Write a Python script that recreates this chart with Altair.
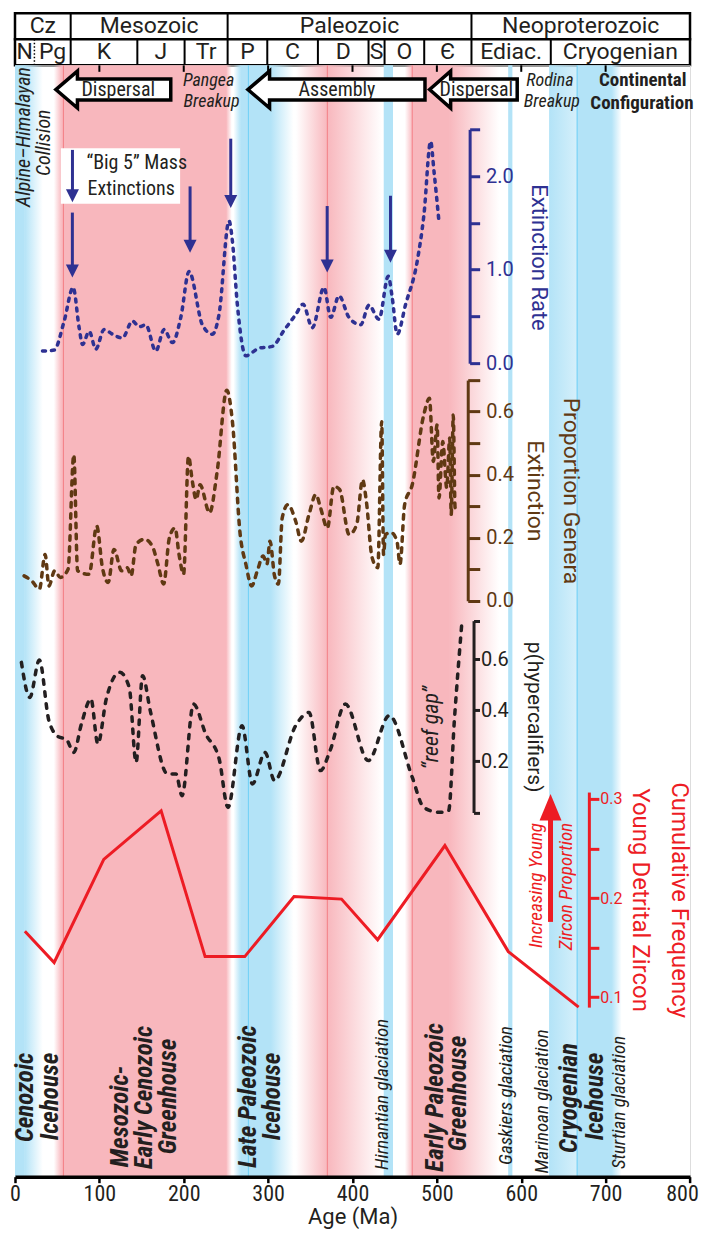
import altair as alt
import pandas as pd

# ---------------- series values: (age in Ma, value) ----------------
ext_rate = [
    (32.6, 0.13), (46.4, 0.14), (58.3, 0.45), (68.9, 0.81), (76.0, 0.38), (80.0, 0.20),
    (87.9, 0.34), (95.8, 0.15), (105.6, 0.36), (115.5, 0.31), (127.3, 0.27), (139.2, 0.45),
    (147.1, 0.39), (155.0, 0.41), (166.9, 0.13), (176.7, 0.36), (186.6, 0.22), (196.5, 0.49),
    (206.3, 0.98), (222.1, 0.41), (233.9, 0.31), (241.8, 0.52), (253.7, 1.52), (257.6, 1.31),
    (263.5, 0.63), (273.5, 0.08), (289.2, 0.16), (305.0, 0.18), (318.8, 0.35), (332.7, 0.52),
    (341.4, 0.63), (352.4, 0.38), (366.2, 0.81), (374.2, 0.49), (384.0, 0.72), (395.8, 0.49),
    (409.7, 0.41), (419.5, 0.62), (431.4, 0.47), (442.4, 0.93), (447.1, 0.70), (453.0, 0.31),
    (463.0, 0.63), (476.7, 1.09), (484.7, 1.59), (492.6, 2.37), (496.6, 2.05), (502.4, 1.52),
]

genera_ext = [
    (10.8, 0.079), (19.8, 0.063), (28.9, 0.037), (35.7, 0.147), (40.2, 0.047), (47.0, 0.095),
    (53.8, 0.074), (62.9, 0.100), (69.7, 0.463), (74.2, 0.095), (87.8, 0.084), (96.9, 0.237),
    (103.6, 0.105), (110.5, 0.058), (117.3, 0.163), (126.4, 0.095), (133.1, 0.105), (137.6, 0.079),
    (143.5, 0.179), (153.5, 0.195), (162.6, 0.174), (169.4, 0.116), (176.2, 0.053), (183.0, 0.200),
    (189.7, 0.231), (194.4, 0.147), (199.8, 0.084), (205.6, 0.458), (210.2, 0.379), (214.7, 0.321),
    (219.3, 0.368), (230.6, 0.279), (239.6, 0.410), (251.0, 0.668), (257.7, 0.568), (266.9, 0.210),
    (273.6, 0.116), (280.5, 0.047), (287.2, 0.095), (294.1, 0.142), (298.6, 0.116), (302.2, 0.189),
    (307.6, 0.079), (312.2, 0.053), (316.7, 0.263), (323.5, 0.305), (332.6, 0.253), (339.4, 0.189),
    (348.5, 0.274), (356.6, 0.337), (362.1, 0.295), (370.2, 0.231), (377.9, 0.363), (384.7, 0.353),
    (396.0, 0.210), (405.0, 0.242), (411.9, 0.384), (416.4, 0.316), (423.2, 0.137), (430.0, 0.105),
    (434.6, 0.568), (436.8, 0.147), (439.1, 0.210), (445.9, 0.216), (452.7, 0.189), (456.3, 0.116),
    (461.8, 0.305), (470.8, 0.368), (484.4, 0.589), (491.2, 0.642), (495.8, 0.442), (500.3, 0.558),
    (502.5, 0.326), (507.0, 0.505), (511.7, 0.358), (515.2, 0.516), (517.0, 0.274), (519.4, 0.589),
    (521.6, 0.295), (525.2, 0.305),
]

hypercalc = [
    (7.6, 0.587), (17.5, 0.450), (28.9, 0.596), (40.2, 0.359), (51.5, 0.296), (60.6, 0.287),
    (69.7, 0.235), (78.7, 0.346), (90.0, 0.444), (98.2, 0.268), (108.2, 0.444), (124.1, 0.548),
    (135.4, 0.489), (143.5, 0.196), (151.2, 0.535), (160.3, 0.398), (180.7, 0.151), (190.7, 0.151),
    (198.0, 0.066), (211.5, 0.424), (226.1, 0.307), (242.0, 0.209), (252.4, 0.020), (269.1, 0.339),
    (281.4, 0.112), (296.3, 0.235), (307.6, 0.125), (332.6, 0.339), (348.5, 0.391), (362.1, 0.164),
    (373.4, 0.242), (391.5, 0.424), (418.7, 0.203), (443.6, 0.379), (470.8, 0.138), (484.4, 0.020),
    (502.5, 0.001), (513.9, 0.007), (520.7, 0.359), (529.8, 0.750),
]

zircon = [
    (11.7, 0.1665), (46.4, 0.135), (105.2, 0.239), (173.2, 0.288), (225.3, 0.141), (272.3, 0.141),
    (330.7, 0.2015), (387.0, 0.199), (429.8, 0.158), (509.5, 0.253), (584.7, 0.146), (668.0, 0.090),
]

# "Big 5" mass extinction arrows: age, arrow top, arrow tip (extinction-rate units)
big5_age = [68.0, 207.5, 255.7, 370.0, 445.0]
big5_from = [1.61, 1.89, 2.40, 1.68, 1.79]
big5_to = [0.915, 1.18, 1.66, 0.97, 1.075]
legend_arrow = [(68.1, 2.28, 1.72)]
zircon_arrow = [(634.7, 0.176, 0.305)]   # age, shaft bottom, tip (zircon units)

# ---------------- timescale ----------------
era_names = ["Cz", "Mesozoic", "Paleozoic", "Neoproterozoic"]
era_start = [0, 66, 252, 541]
era_end = [66, 252, 541, 800]
period_names = ["N", "Pg", "K", "J", "Tr", "P", "C", "D", "S", "O", "Є", "Ediac.", "Cryogenian"]
period_start = [0, 23, 66, 145, 201, 252, 299, 359, 419, 438, 485, 541, 635]
period_end = [23, 66, 145, 201, 252, 299, 359, 419, 438, 485, 541, 635, 800]
dotted_boundaries = [23]
header_ticks = [100, 200, 300, 400, 500, 600, 700]
age_ticks = [0, 100, 200, 300, 400, 500, 600, 700, 800]

# climate bands: (start Ma, end Ma, hue, shading)
climate_bands = [
    (0, 11.5, "blue", "solid"), (11, 33, "blue", "out"),
    (46, 55.5, "pink", "in"), (55, 250.5, "pink", "solid"), (250, 257, "pink", "out"),
    (259, 267.5, "blue", "in"), (267, 303.5, "blue", "solid"), (303, 330, "blue", "out"),
    (333, 370.5, "pink", "in"), (370, 435, "pink", "out"),
    (437, 448, "blue", "solid"),
    (462, 471.5, "pink", "in"), (471, 515.5, "pink", "solid"), (515, 574, "pink", "out"),
    (584.5, 589.5, "blue", "solid"),
    (633, 666.5, "blue", "half"), (666, 707.5, "blue", "solid"), (707, 719, "blue", "out"),
]
red_lines = [57.4, 370.2, 470.8]
cyan_lines = [276.6, 666.2]

# tectonic arrows (Ma): tip, neck, tail
plate_labels = ["Dispersal", "Assembly", "Dispersal"]
plate_label_age = [122.4, 381.6, 546.8]
plate_tip = [48.4, 276.0, 491.4]
plate_neck = [74.0, 301.7, 516.3]
plate_tail = [184.6, 485.9, 595.2]

# ---------------- annotations: (text, Ma, page-y, angle, font size) ----------------
notes_italic = [
    ("Alpine–Himalayan", 10.9, 136, 270, 20), ("Collision", 34.6, 141.7, 270, 20),
    ("Pangea", 229.5, 80, 0, 18), ("Breakup", 233.0, 100.5, 0, 18),
    ("Rodina", 634.0, 80, 0, 18), ("Breakup", 636.3, 100.5, 0, 18),
    ("Hirnantian glaciation", 435.5, 1094, 270, 19), ("Gaskiers glaciation", 581.8, 1095, 270, 19),
    ("Marinoan glaciation", 624.4, 1101, 270, 19), ("Sturtian glaciation", 715.7, 1102, 270, 19),
    ("“reef gap”", 493.0, 727, 270, 22),
]
notes_bold = [("Continental", 744.0, 79, 0, 19), ("Configuration", 743.0, 101.5, 0, 19)]
notes_bold_italic = [
    ("Cenozoic", 12.1, 1097, 270, 25), ("Icehouse", 41.3, 1096, 270, 25),
    ("Mesozoic-", 124.1, 1116, 270, 25), ("Early Cenozoic", 153.0, 1097, 270, 25),
    ("Greenhouse", 181.5, 1096, 270, 25), ("Late Paleozoic", 276.2, 1096, 270, 25),
    ("Icehouse", 304.4, 1096, 270, 25), ("Early Paleozoic", 497.7, 1097, 270, 25),
    ("Greenhouse", 524.9, 1093, 270, 25), ("Cryogenian", 656.4, 1097.5, 270, 25),
    ("Icehouse", 687.2, 1096, 270, 25),
]
notes_legend = [("“Big 5” Mass", 84.7, 161.5, 0, 20), ("Extinctions", 85.9, 188, 0, 20)]
notes_red = [("Increasing Young", 616.9, 885, 270, 19), ("Zircon Proportion", 652.5, 886, 270, 19)]
legend_box = [(54.4, 195.7, 147.3, 202.7)]

# ---------------- styling / layout ----------------
NAVY, BROWN, RED, INK = "#2E3192", "#603913", "#ED1C24", "#231F20"
BLUE, PINK = "#B3E3F7", "#F8B7BD"
REDLINE, CYANLINE = "#F47F86", "#6DCFF6"
COND = "Liberation Sans Narrow, Roboto Condensed, Roboto, sans-serif"
FONT = "Roboto"

PAD_TOP, HEAD_H, H = 3, 52, 1112
W = 675.4
TOP = 8 + PAD_TOP + 1.25 + HEAD_H          # page y of the main plot's top edge
PLOT_RIGHT = 15.8 + W


def lin(d0, d1, p0, p1):
    return alt.Scale(domain=[d0, d1], range=[p0 - TOP, p1 - TOP], nice=False, zero=False)


xs = alt.Scale(domain=[0, 800], nice=False, zero=False)
pos = lin(TOP, TOP + H, TOP, TOP + H)
ext_sc = lin(0, 2.5, 362.3, 128.3)
gen_sc = lin(0, 0.7, 600.0, 379.2)
hyp_sc = lin(0, 0.75, 811.9, 619.9)
zir_sc = lin(0.09, 0.307, 1006.6, 791.4)

main_x_axis = alt.Axis(values=age_ticks, title="Age (Ma)", orient="bottom",
                       domainColor="black", domainWidth=3.5, tickColor="black", tickWidth=2.5,
                       tickSize=6, labelFontSize=22, labelFont=COND, labelColor=INK,
                       labelPadding=1, labelFlush=False,
                       labelOffset={"condition": {"test": "datum.value === 800", "value": -8},
                                    "value": 0},
                       titleFont=FONT, titleFontSize=22,
                       titleFontWeight="normal", titleColor=INK, titlePadding=2, grid=False,
                       zindex=2)


def xenc(field):
    # every layer carries the identical axis definition so that the shared axis merges cleanly
    return alt.X(f"{field}:Q", scale=xs, axis=main_x_axis)


def ypos(field):
    return alt.Y(f"{field}:Q", scale=pos, axis=None)


def rgba(h, a):
    return f"rgba({int(h[1:3], 16)},{int(h[3:5], 16)},{int(h[5:7], 16)},{a})"


def grad(c0, c1):
    return alt.Gradient(gradient="linear", x1=0, y1=0, x2=1, y2=0,
                        stops=[alt.GradientStop(color=c0, offset=0),
                               alt.GradientStop(color=c1, offset=1)])


hue_hex = {"blue": BLUE, "pink": PINK}


def band_fill(hue, kind):
    c = hue_hex[hue]
    if kind == "solid":
        return c
    if kind == "in":
        return grad(rgba(c, 0), c)
    if kind == "out":
        return grad(c, rgba(c, 0))
    return grad(c, rgba(c, 0.55))


def y_axis(color, axis_px, values, label_expr, title, tick=10, lab_size=20, lab_pad=6,
           title_size=22, title_pad=8, line_h=None, **kw):
    opts = dict(orient="right", offset=-(PLOT_RIGHT - axis_px), values=values,
                labelExpr=label_expr, domainColor=color, domainWidth=3, tickColor=color,
                tickWidth=3, tickSize=tick, labelColor=color, labelFontSize=lab_size,
                labelFont=FONT, labelPadding=lab_pad, labelOverlap=False, grid=False,
                title=title, titleColor=color, titleFontSize=title_size, titleFont=FONT,
                titleFontWeight="normal", titlePadding=title_pad, zindex=2)
    if line_h:
        opts["titleLineHeight"] = line_h
    opts.update(kw)
    return alt.Axis(**opts)


layers = []

# background climate bands
bands_df = pd.DataFrame(climate_bands, columns=["start", "end", "hue", "kind"])
for hue in ["blue", "pink"]:
    for kind in ["solid", "in", "out", "half"]:
        sub = bands_df[(bands_df.hue == hue) & (bands_df.kind == kind)]
        if sub.empty:
            continue
        layers.append(alt.Chart(sub).mark_rect(color=band_fill(hue, kind), strokeWidth=0).encode(
            x=xenc("start"), x2="end:Q"))

layers.append(alt.Chart(pd.DataFrame({"ma": red_lines})).mark_rule(color=REDLINE, strokeWidth=1)
              .encode(x=xenc("ma")))
layers.append(alt.Chart(pd.DataFrame({"ma": cyan_lines})).mark_rule(color=CYANLINE, strokeWidth=1)
              .encode(x=xenc("ma")))

# small ticks hanging below the timescale
ht = pd.DataFrame({"ma": header_ticks, "y0": TOP, "y1": TOP + 6.5})
layers.append(alt.Chart(ht).mark_rule(color="black", strokeWidth=2).encode(
    x=xenc("ma"), y=ypos("y0"), y2="y1:Q"))

# tectonic block arrows
CY, HH, BH = 88.5, 18.5, 10.5
arrow_rows = []
for k, (tp, nk, tl) in enumerate(zip(plate_tip, plate_neck, plate_tail)):
    arrow_rows += [(k, tp, CY, CY), (k, nk, CY - HH, CY + HH),
                   (k, nk + 0.01, CY - BH, CY + BH), (k, tl, CY - BH, CY + BH)]
arrow_df = pd.DataFrame(arrow_rows, columns=["k", "ma", "top", "bot"])
layers.append(alt.Chart(arrow_df).mark_area(fill="white", stroke="black", strokeWidth=3.5,
                                            strokeJoin="miter", orient="vertical",
                                            interpolate="linear", fillOpacity=1).encode(
    x=xenc("ma"), y=ypos("top"), y2="bot:Q", detail="k:N"))
plate_df = pd.DataFrame({"label": plate_labels, "ma": plate_label_age, "y": [CY] * 3})
layers.append(alt.Chart(plate_df).mark_text(font=COND, fontSize=20, color=INK, baseline="middle")
              .encode(x=xenc("ma"), y=ypos("y"), text="label:N"))

# legend box
box_df = pd.DataFrame(legend_box, columns=["x0", "x1", "y0", "y1"])
layers.append(alt.Chart(box_df).mark_rect(fill="white", strokeWidth=0).encode(
    x=xenc("x0"), x2="x1:Q", y=ypos("y0"), y2="y1:Q"))


# data curves
def curve(points, sc, axis, color, dash, width=3.5, interp="monotone"):
    df = pd.DataFrame(points, columns=["ma", "v"])
    kw = dict(color=color, strokeWidth=width, interpolate=interp)
    if dash:
        kw.update(strokeDash=dash, strokeCap="round")
    return alt.Chart(df).mark_line(**kw).encode(
        x=xenc("ma"), y=alt.Y("v:Q", scale=sc, axis=axis))


ext_axis = y_axis(NAVY, 470.7, [0, 0.5, 1, 1.5, 2, 2.5],
                  "datum.value % 1 === 0 ? format(datum.value, '.1f') : ''",
                  "Extinction Rate", tick=10, title_pad=13, titleY=256 - TOP)
gen_axis = y_axis(BROWN, 468.8, [0, 0.1, 0.2, 0.3, 0.4, 0.5, 0.6, 0.7],
                  "(round(datum.value * 10) % 2 === 0 && datum.value < 0.65) ? format(datum.value, '.1f') : ''",
                  ["Proportion Genera", "Extinction"], tick=12, title_size=23, title_pad=9,
                  line_h=36)
hyp_axis = y_axis(INK, 474.6, [0, 0.2, 0.4, 0.6, 0.75],
                  "(datum.value > 0.1 && datum.value < 0.7) ? format(datum.value, '.1f') : ''",
                  "p(hypercalifiers)", tick=6, lab_pad=1, title_size=21, title_pad=15)
zir_axis = y_axis(RED, 590.0, [0.1, 0.15, 0.2, 0.25, 0.3],
                  "round(datum.value * 100) % 10 === 0 ? format(datum.value, '.1f') : ''",
                  ["Cumulative Frequency", "Young Detrital Zircon"], tick=10, lab_size=16,
                  lab_pad=1, title_size=24, title_pad=5, line_h=39)

layers.append(curve(ext_rate, ext_sc, ext_axis, NAVY, [3, 6]))
layers.append(curve(genera_ext, gen_sc, gen_axis, BROWN, [4.5, 6.5]))
layers.append(curve(hypercalc, hyp_sc, hyp_axis, INK, [4.5, 7.5]))
layers.append(curve(zircon, zir_sc, zir_axis, RED, None, width=3, interp="linear"))

# Big 5 arrows (+ legend arrow)
b5 = pd.DataFrame({"ma": big5_age + [a[0] for a in legend_arrow],
                   "top": big5_from + [a[1] for a in legend_arrow],
                   "tip": big5_to + [a[2] for a in legend_arrow]})
layers.append(alt.Chart(b5).transform_calculate(base="datum.tip + 0.08").mark_rule(
    color=NAVY, strokeWidth=3).encode(x=xenc("ma"), y=alt.Y("top:Q", scale=ext_sc, axis=None),
                                      y2="base:Q"))
layers.append(alt.Chart(b5).mark_point(shape="M-1,-2L1,-2L0,0Z", filled=True, size=169,
                                       color=NAVY, opacity=1, strokeWidth=0).encode(
    x=xenc("ma"), y=alt.Y("tip:Q", scale=ext_sc, axis=None)))

# zircon arrow
za = pd.DataFrame(zircon_arrow, columns=["ma", "bottom", "tip"])
layers.append(alt.Chart(za).transform_calculate(head="datum.tip - 0.02").mark_rule(
    color=RED, strokeWidth=5).encode(x=xenc("ma"), y=alt.Y("bottom:Q", scale=zir_sc, axis=None),
                                     y2="head:Q"))
layers.append(alt.Chart(za).mark_point(shape="M-1,2.4L1,2.4L0,0Z", filled=True, size=484,
                                       color=RED, opacity=1, strokeWidth=0).encode(
    x=xenc("ma"), y=alt.Y("tip:Q", scale=zir_sc, axis=None)))


def notes(rows, color, style="normal", weight="normal", align="center"):
    df = pd.DataFrame(rows, columns=["label", "ma", "y", "angle", "size"])
    return alt.Chart(df).mark_text(font=COND, fontStyle=style, fontWeight=weight, color=color,
                                   align=align, baseline="middle").encode(
        x=xenc("ma"), y=ypos("y"), text="label:N",
        angle=alt.Angle("angle:Q", scale=None), size=alt.Size("size:Q", scale=None))


layers.append(notes(notes_italic, INK, style="italic"))
layers.append(notes(notes_bold, INK, weight="bold"))
layers.append(notes(notes_bold_italic, INK, style="italic", weight="bold"))
layers.append(notes(notes_legend, INK, align="left"))
layers.append(notes(notes_red, RED, style="italic"))

main = alt.layer(*layers).resolve_scale(y="independent").properties(width=W, height=H)

# ---------------- header (timescale) ----------------
hdr_sc = alt.Scale(domain=[0, 2], range=[0, HEAD_H], nice=False, zero=False)
rows_df = pd.DataFrame({"x0": [0, 0], "x1": [800, 800], "y0": [0, 1], "y1": [1, 2]})
era_df = pd.DataFrame({"name": era_names, "s": era_start, "e": era_end})
era_df["mid"] = (era_df.s + era_df.e) / 2
era_df["row"] = 0.5
per_df = pd.DataFrame({"name": period_names, "s": period_start, "e": period_end})
per_df["mid"] = (per_df.s + per_df.e) / 2
per_df["row"] = 1.5
sep_df = pd.concat([
    pd.DataFrame({"b": era_start[1:], "y0": 0, "y1": 1}),
    pd.DataFrame({"b": [s for s in period_start[1:] if s not in dotted_boundaries], "y0": 1, "y1": 2}),
])
dot_df = pd.DataFrame({"b": dotted_boundaries, "y0": 1, "y1": 2})


def hx(f):
    return alt.X(f"{f}:Q", scale=xs, axis=None)


def hy(f):
    return alt.Y(f"{f}:Q", scale=hdr_sc, axis=None)


header = alt.layer(
    alt.Chart(rows_df).mark_rect(fill="white", stroke="black", strokeWidth=2.5).encode(
        x=hx("x0"), x2="x1:Q", y=hy("y0"), y2="y1:Q"),
    alt.Chart(sep_df).mark_rule(color="black", strokeWidth=2).encode(
        x=hx("b"), y=hy("y0"), y2="y1:Q"),
    alt.Chart(dot_df).mark_rule(color="black", strokeWidth=1.5, strokeDash=[1.5, 2]).encode(
        x=hx("b"), y=hy("y0"), y2="y1:Q"),
    alt.Chart(era_df).mark_text(font=FONT, fontSize=23, color=INK, baseline="middle").encode(
        x=hx("mid"), y=hy("row"), text="name:N"),
    alt.Chart(per_df).mark_text(font=FONT, fontSize=23, color=INK, baseline="middle").encode(
        x=hx("mid"), y=hy("row"), text="name:N"),
).properties(width=W, height=HEAD_H)

chart = alt.vconcat(header, main, spacing=0, bounds="flush").properties(
    padding={"left": 1, "top": PAD_TOP, "right": 0, "bottom": 0}
).configure_view(stroke=None, strokeWidth=0).configure(font=FONT)

chart.save("out.html", embed_options={"renderer": "svg", "actions": False})
